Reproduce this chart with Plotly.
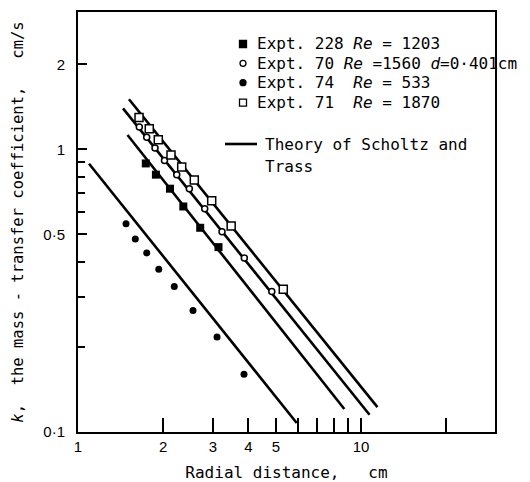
import plotly.graph_objects as go

# ---------------- data ----------------
expt228_r = [1.736, 1.885, 2.114, 2.356, 2.703, 3.137]
expt228_k = [0.892, 0.814, 0.726, 0.628, 0.528, 0.451]

expt70_r = [1.647, 1.749, 1.871, 2.021, 2.233, 2.474, 2.804, 3.228, 3.870, 4.840]
expt70_k = [1.200, 1.103, 1.011, 0.913, 0.814, 0.726, 0.617, 0.511, 0.413, 0.314]

expt74_r = [1.478, 1.594, 1.749, 1.929, 2.189, 2.549, 3.099, 3.860]
expt74_k = [0.546, 0.482, 0.430, 0.377, 0.327, 0.269, 0.217, 0.160]

expt71_r = [1.643, 1.786, 1.922, 2.131, 2.325, 2.576, 2.968, 3.477, 5.314]
expt71_k = [1.298, 1.184, 1.082, 0.955, 0.866, 0.779, 0.658, 0.536, 0.320]

# theory of Scholtz and Trass (end points of each line)
theory_533_r = [1.094, 5.928]
theory_533_k = [0.890, 0.1076]
theory_1203_r = [1.496, 8.730]
theory_1203_k = [1.124, 0.1206]
theory_1560_r = [1.442, 10.72]
theory_1560_k = [1.397, 0.1151]
theory_1870_r = [1.514, 11.43]
theory_1870_k = [1.505, 0.1224]

x_tickvals = [1, 2, 3, 4, 5, 10]
x_ticktext = ["1", "2", "3", "4", "5", "10"]
x_minor = [6, 7, 8, 9, 20]
y_tickvals = [0.1, 0.5, 1, 2]
y_ticktext = ["0·1", "0·5", "1", "2"]
y_minor = [0.2, 0.3, 0.4, 0.6, 0.7, 0.8, 0.9]

legend_rows = [
    ("Expt.\u00a0228\u00a0<i>Re</i>\u00a0=\u00a01203", "square", "black"),
    ("Expt.\u00a070\u00a0<i>Re</i>\u00a0=1560\u00a0<i>d</i>=0·401cm", "circle", "white"),
    ("Expt.\u00a074\u00a0\u00a0<i>Re</i>\u00a0=\u00a0533", "circle", "black"),
    ("Expt.\u00a071\u00a0\u00a0<i>Re</i>\u00a0=\u00a01870", "square", "white"),
]
theory_label = ["Theory\u00a0of\u00a0Scholtz\u00a0and", "Trass"]

# ---------------- layout geometry ----------------
W, H = 530, 482
ML, MR, MT, MB = 78, 35, 12, 50
PW, PH = W - ML - MR, H - MT - MB


def px(x):
    return (x - ML) / PW


def py(y):
    return (H - MB - y) / PH


MONO = "DejaVu Sans Mono"
fig = go.Figure()

line_style = dict(color="black", width=2.6)
for r, k in [(theory_533_r, theory_533_k), (theory_1203_r, theory_1203_k),
             (theory_1560_r, theory_1560_k), (theory_1870_r, theory_1870_k)]:
    fig.add_trace(go.Scatter(x=r, y=k, mode="lines", line=line_style,
                             showlegend=False, hoverinfo="skip"))

fig.add_trace(go.Scatter(x=expt228_r, y=expt228_k, mode="markers", name="Expt. 228",
                         marker=dict(symbol="square", size=8, color="black"), showlegend=False))
fig.add_trace(go.Scatter(x=expt70_r, y=expt70_k, mode="markers", name="Expt. 70",
                         marker=dict(symbol="circle", size=6, color="white",
                                     line=dict(color="black", width=1.5)), showlegend=False))
fig.add_trace(go.Scatter(x=expt74_r, y=expt74_k, mode="markers", name="Expt. 74",
                         marker=dict(symbol="circle", size=7, color="black"), showlegend=False))
fig.add_trace(go.Scatter(x=expt71_r, y=expt71_k, mode="markers", name="Expt. 71",
                         marker=dict(symbol="square", size=8, color="white",
                                     line=dict(color="black", width=1.5)), showlegend=False))

# ---------------- legend (annotations + symbol shapes) ----------------
annotations = []
shapes = []
row_y = [44, 63.3, 82.7, 102.7]
for (txt, sym, fill), yy in zip(legend_rows, row_y):
    annotations.append(dict(x=px(255), y=py(yy), xref="paper", yref="paper", text=txt,
                            showarrow=False, xanchor="left", yanchor="middle",
                            font=dict(family=MONO, size=16, color="black")))
    half = 3.5 if sym == "square" else 3
    shapes.append(dict(type="rect" if sym == "square" else "circle",
                       xref="paper", yref="paper", xsizemode="pixel", ysizemode="pixel",
                       xanchor=px(243), yanchor=py(yy), x0=-half, x1=half, y0=-half, y1=half,
                       fillcolor=fill, line=dict(color="black", width=1.3)))

annotations.append(dict(x=px(263), y=py(144), xref="paper", yref="paper", text=theory_label[0],
                        showarrow=False, xanchor="left", yanchor="middle",
                        font=dict(family=MONO, size=16, color="black")))
annotations.append(dict(x=px(263), y=py(166), xref="paper", yref="paper", text=theory_label[1],
                        showarrow=False, xanchor="left", yanchor="middle",
                        font=dict(family=MONO, size=16, color="black")))
shapes.append(dict(type="line", xref="paper", yref="paper", x0=px(225), x1=px(257),
                   y0=py(144), y1=py(144), line=dict(color="black", width=2.6)))

TICKFONT = dict(family="Liberation Sans", size=15, color="black")
fig.update_layout(
    width=W, height=H,
    margin=dict(l=ML, r=MR, t=MT, b=MB, autoexpand=False),
    paper_bgcolor="white", plot_bgcolor="white",
    showlegend=False,
    annotations=annotations, shapes=shapes,
    xaxis=dict(type="log", range=[0, 1.4735], showgrid=False, zeroline=False,
               showline=True, linecolor="black", linewidth=2, mirror=True,
               ticks="inside", ticklen=14, tickwidth=1.5, tickcolor="black",
               tickmode="array", tickvals=x_tickvals, ticktext=x_ticktext,
               tickfont=TICKFONT, ticklabelstandoff=0,
               minor=dict(tickmode="array", tickvals=x_minor, ticks="inside",
                          ticklen=14, tickwidth=1.5, tickcolor="black", showgrid=False),
               title=dict(text="Radial\u00a0distance,\u00a0\u00a0\u00a0cm",
                          font=dict(family=MONO, size=16, color="black"), standoff=14)),
    yaxis=dict(type="log", range=[-1, 0.4862], showgrid=False, zeroline=False,
               showline=True, linecolor="black", linewidth=2, mirror=True,
               ticks="inside", ticklen=9, tickwidth=1.5, tickcolor="black",
               tickmode="array", tickvals=y_tickvals, ticktext=y_ticktext,
               tickfont=TICKFONT, ticklabelstandoff=8,
               minor=dict(tickmode="array", tickvals=y_minor, ticks="inside",
                          ticklen=7, tickwidth=1.5, tickcolor="black", showgrid=False),
               title=dict(text="<i>k</i>,\u00a0\u00a0the\u00a0mass\u00a0-\u00a0transfer\u00a0coefficient,\u00a0\u00a0\u00a0cm/s",
                          font=dict(family=MONO, size=15.5, color="black"), standoff=16)),
)

fig.write_html("out.html")
